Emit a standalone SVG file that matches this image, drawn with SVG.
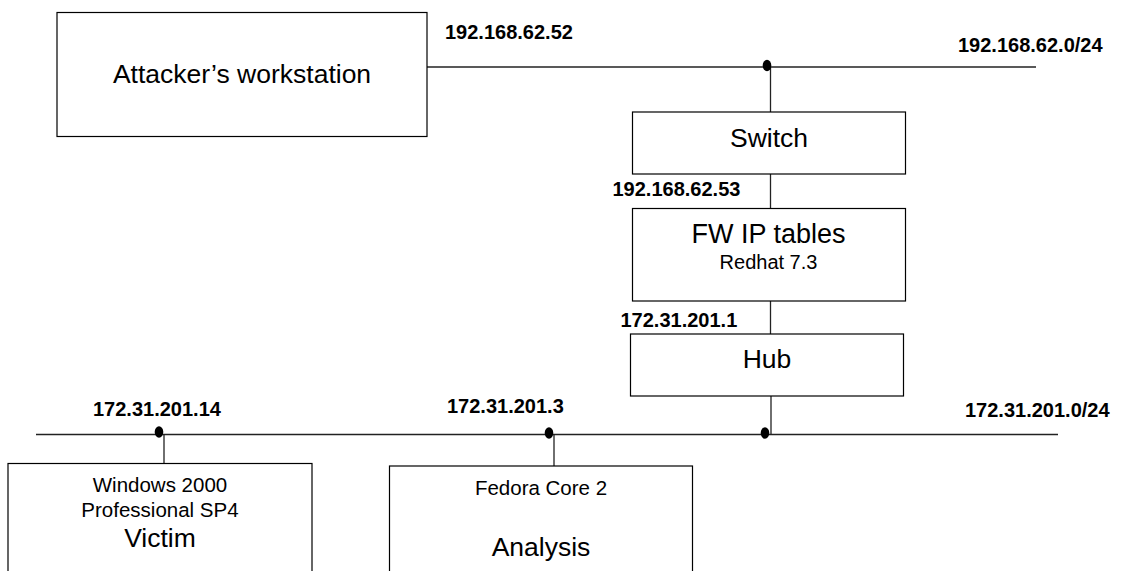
<svg xmlns="http://www.w3.org/2000/svg" width="1123" height="571" viewBox="0 0 1123 571">
<style>
.box{fill:#fff;stroke:#000;stroke-width:1.2}
.ln{stroke:#222;stroke-width:1.3;fill:none}
.dot{fill:#000}
.big{font-family:"Liberation Sans",Arial,sans-serif;font-size:26.5px;fill:#000;text-anchor:middle}
.sm{font-family:"Liberation Sans",Arial,sans-serif;font-size:20.5px;fill:#000;text-anchor:middle}
.ip{font-family:"Liberation Sans",Arial,sans-serif;font-size:20px;font-weight:bold;fill:#000}
</style>
<rect width="1123" height="571" fill="#fff"/>
<g id="connectors">
<line class="ln" x1="427" y1="67" x2="1036" y2="67"/>
<line class="ln" x1="770.5" y1="67" x2="770.5" y2="112"/>
<line class="ln" x1="770.5" y1="174" x2="770.5" y2="208"/>
<line class="ln" x1="770.5" y1="301" x2="770.5" y2="334"/>
<line class="ln" x1="771" y1="396" x2="771" y2="434"/>
<line class="ln" x1="36" y1="434.5" x2="1058" y2="434.5"/>
<line class="ln" x1="164" y1="434" x2="164" y2="463"/>
<line class="ln" x1="554" y1="434" x2="554" y2="466"/>
<ellipse class="dot" cx="767" cy="65.5" rx="4.3" ry="5.8"/>
<ellipse class="dot" cx="159" cy="432" rx="4.3" ry="5.8"/>
<ellipse class="dot" cx="549" cy="433" rx="4.3" ry="5.8"/>
<ellipse class="dot" cx="765" cy="433" rx="4.3" ry="5.8"/>
</g>
<g id="attacker">
<rect class="box" x="57" y="12.5" width="370" height="124"/>
<text class="big" x="242" y="83">Attacker’s workstation</text>
</g>
<g id="switch">
<rect class="box" x="632.5" y="112" width="273" height="62"/>
<text class="big" x="769" y="146.5">Switch</text>
</g>
<g id="firewall">
<rect class="box" x="632.5" y="208.5" width="273" height="92.5"/>
<text class="big" x="768.5" y="242.5" style="font-size:27px">FW IP tables</text>
<text class="sm" x="768.5" y="268.5" style="font-size:20px">Redhat 7.3</text>
</g>
<g id="hub">
<rect class="box" x="630.5" y="334" width="273" height="62"/>
<text class="big" x="767" y="368">Hub</text>
</g>
<g id="victim">
<rect class="box" x="8" y="463.5" width="304" height="120"/>
<text class="sm" x="160" y="492">Windows 2000</text>
<text class="sm" x="160" y="517">Professional SP4</text>
<text class="big" x="160" y="546.5">Victim</text>
</g>
<g id="analysis">
<rect class="box" x="389.5" y="466" width="303" height="120"/>
<text class="sm" x="541" y="495">Fedora Core 2</text>
<text class="big" x="541" y="556">Analysis</text>
</g>
<g id="labels">
<text class="ip" x="445" y="39">192.168.62.52</text>
<text class="ip" x="958" y="52">192.168.62.0/24</text>
<text class="ip" x="612.5" y="196">192.168.62.53</text>
<text class="ip" x="620.5" y="326.5">172.31.201.1</text>
<text class="ip" x="93" y="416">172.31.201.14</text>
<text class="ip" x="447" y="413">172.31.201.3</text>
<text class="ip" x="965" y="417">172.31.201.0/24</text>
</g>
</svg>
